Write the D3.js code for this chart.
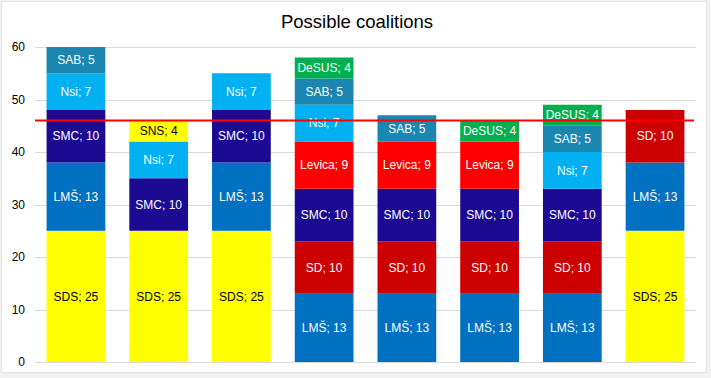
<!DOCTYPE html>
<html>
<head>
<meta charset="utf-8">
<script src="https://cdn.jsdelivr.net/npm/d3@7"></script>
<style>
  body { margin: 0; background: #f2f2f2; }
  text { font-family: "Liberation Sans", Arial, sans-serif; }
</style>
</head>
<body>
<div id="chart"></div>
<script>
// coalitions (no axis labels in the original)
var coalitions = ["C1","C2","C3","C4","C5","C6","C7","C8"];

// parties in stacking order, bottom to top
var parties = ["SDS","LMŠ","SD","SMC","Levica","Nsi","SAB","DeSUS","SNS"];

// seats per coalition
var sds    = [25,25,25, 0, 0, 0, 0,25];
var lms    = [13, 0,13,13,13,13,13,13];
var sd     = [ 0, 0, 0,10,10,10,10,10];
var smc    = [10,10,10,10,10,10,10, 0];
var levica = [ 0, 0, 0, 9, 9, 9, 0, 0];
var nsi    = [ 7, 7, 7, 7, 0, 0, 7, 0];
var sab    = [ 5, 0, 0, 5, 5, 0, 5, 0];
var desus  = [ 0, 0, 0, 4, 0, 4, 4, 0];
var sns    = [ 0, 4, 0, 0, 0, 0, 0, 0];

var majority = 46;
var yTicks = [0,10,20,30,40,50,60];

var colors = {
  "SDS": "#ffff00", "LMŠ": "#0070c0", "SD": "#cc0000", "SMC": "#1d0a92",
  "Levica": "#ff0000", "Nsi": "#00b0f0", "SAB": "#1b86b0",
  "DeSUS": "#00b050", "SNS": "#ffff00"
};
var darkText = {"SDS": true, "SNS": true};

var seats = {"SDS": sds, "LMŠ": lms, "SD": sd, "SMC": smc, "Levica": levica,
             "Nsi": nsi, "SAB": sab, "DeSUS": desus, "SNS": sns};

var table = coalitions.map(function(c, i) {
  var row = {coalition: c};
  parties.forEach(function(p) { row[p] = seats[p][i]; });
  return row;
});

var W = 711, H = 378;
var margin = {top: 47, right: 15, bottom: 16, left: 35};

var svg = d3.select("#chart").append("svg")
    .attr("width", W).attr("height", H);

// chart frame
svg.append("rect")
    .attr("x", 1.5).attr("y", 1.5)
    .attr("width", 705).attr("height", 371)
    .style("fill", "#fff")
    .style("stroke", "#e3e3e3");

var x = d3.scaleBand()
    .domain(coalitions)
    .range([margin.left, W - margin.right])
    .paddingInner(0.29)
    .paddingOuter(0.14);

var y = d3.scaleLinear()
    .domain([0, 60])
    .range([H - margin.bottom, margin.top]);

// gridlines
svg.append("g").selectAll("line")
    .data(yTicks)
    .join("line")
    .attr("x1", margin.left).attr("x2", W - margin.right)
    .attr("y1", function(d){ return Math.round(y(d)) + 0.5; })
    .attr("y2", function(d){ return Math.round(y(d)) + 0.5; })
    .style("stroke", "#d9d9d9")
    .style("stroke-width", 1);

// y axis labels
var yAxis = svg.append("g")
    .attr("transform", "translate(" + margin.left + ",0)")
    .call(d3.axisLeft(y).tickValues(yTicks).tickSize(0).tickPadding(10));
yAxis.select(".domain").remove();
yAxis.selectAll("text")
    .style("font-size", "12px")
    .style("fill", "#000");

var stack = d3.stack().keys(parties);
var series = stack(table);

var groups = svg.append("g").selectAll("g")
    .data(series)
    .join("g")
    .style("fill", function(s){ return colors[s.key]; });

groups.selectAll("rect")
    .data(function(s){
      return s.filter(function(d){ return d[1] > d[0]; })
              .map(function(d){ return {key: s.key, d: d}; });
    })
    .join("rect")
    .attr("x", function(o){ return x(o.d.data.coalition); })
    .attr("width", x.bandwidth())
    .attr("y", function(o){ return y(o.d[1]); })
    .attr("height", function(o){ return y(o.d[0]) - y(o.d[1]); });

// segment labels
var labels = svg.append("g");
series.forEach(function(s) {
  s.forEach(function(d) {
    var v = d[1] - d[0];
    if (v <= 0) return;
    labels.append("text")
      .attr("x", x(d.data.coalition) + x.bandwidth() / 2)
      .attr("y", y((d[0] + d[1]) / 2))
      .attr("dy", "0.35em")
      .attr("text-anchor", "middle")
      .style("font-size", "12px")
      .style("fill", darkText[s.key] ? "#000" : "#fff")
      .text(s.key + "; " + v);
  });
});

// majority line
svg.append("line")
    .attr("x1", margin.left).attr("x2", W - margin.right - 2)
    .attr("y1", y(majority)).attr("y2", y(majority))
    .style("stroke", "#ff0000")
    .style("stroke-width", 2);

// title
svg.append("text")
    .attr("x", 357).attr("y", 28)
    .attr("text-anchor", "middle")
    .style("font-size", "18.5px")
    .style("fill", "#000")
    .text("Possible coalitions");
</script>
</body>
</html>
